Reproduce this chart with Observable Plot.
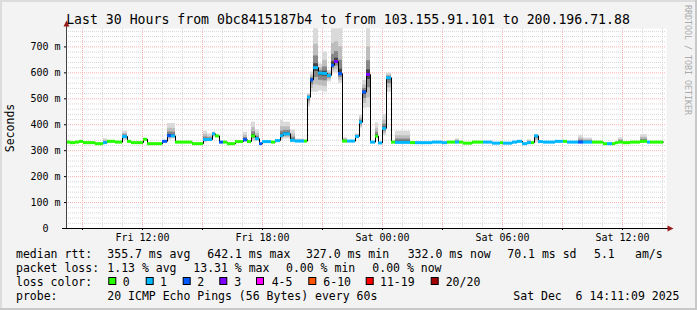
<!DOCTYPE html>
<html><head><meta charset="utf-8">
<script src="https://cdn.jsdelivr.net/npm/d3@7"></script>
<script src="https://cdn.jsdelivr.net/npm/@observablehq/plot@0.6"></script>
<style>
html,body{margin:0;padding:0;background:#f3f3f3;}
#chart{width:697px;height:310px;overflow:hidden;}
svg text{white-space:pre;}
</style></head><body><div id="chart"></div>
<script>
// ---- data (minutes after Fri Dec 5 08:12 UTC) ----
const segStartMin = [
  0,12,27,39,51,87,111,123,147,168,
  183,195,231,243,288,303,315,327,378,411,
  423,438,447,459,471,483,507,531,543,555,
  567,579,588,615,627,642,651,672,687,714,
  723,732,741,756,768,783,795,804,816,828,
  843,867,879,888,900,912,927,936,948,960,
  975,987,1032,1047,1098,1128,1143,1167,1179,1191,
  1218,1251,1278,1302,1311,1338,1353,1368,1383,1395,
  1404,1416,1431,1467,1491,1503,1536,1551,1578,1611,
  1623,1638,1647,1656,1671,1692,1722,1743,1752
];
const endMin = 1791;
const segMedian = [
  333,331,333,336,331,327,331,336,333,355,
  336,331,344,327,336,358,357,333,327,343,
  343,365,357,333,333,327,335,342,335,357,
  346,327,335,333,339,358,365,340,337,337,
  506,573,620,599,598,590,629,644,597,337,
  337,355,410,526,594,333,356,330,386,581,
  333,332,331,331,333,331,333,333,333,329,
  333,333,329,331,329,333,336,327,331,331,
  357,335,333,336,336,333,333,333,333,327,
  327,327,331,333,331,333,336,333,333
];
const segLoss = [
  0,0,0,0,0,0,1,0,0,1,
  0,0,0,0,2,2,1,0,0,1,
  1,1,0,2,0,0,0,2,0,0,
  1,2,1,0,1,1,1,1,1,0,
  1,2,1,1,1,1,2,3,2,0,
  1,1,1,2,3,1,0,1,1,1,
  0,1,0,1,1,1,0,1,0,0,
  0,1,1,0,1,1,1,1,1,0,
  1,1,1,1,0,1,2,1,0,0,
  1,0,0,0,0,0,0,1,0
];
const segSmokeHi = [
  333,331,333,336,331,327,346,336,333,375,
  336,331,344,327,336,405,405,333,327,375,
  365,372,357,333,333,327,335,371,335,410,
  380,327,335,333,339,416,410,380,345,337,
  520,603,770,634,680,610,770,770,770,350,
  337,365,436,571,770,333,407,330,440,600,
  333,375,331,331,333,331,333,346,333,329,
  333,333,329,331,329,333,336,327,342,331,
  362,335,333,336,336,333,358,349,333,327,
  327,327,331,350,331,333,362,333,333
];
const segSmokeLo = [
  333,331,333,336,331,327,331,336,333,339,
  336,331,344,327,336,340,345,333,327,330,
  335,350,357,333,333,327,335,333,335,335,
  338,327,335,333,339,340,345,330,333,337,
  468,526,525,530,526,565,600,600,560,330,
  337,345,386,463,465,333,350,330,358,525,
  333,330,331,331,333,331,333,333,333,329,
  333,333,329,331,329,333,336,327,331,331,
  330,335,333,336,336,333,333,333,333,327,
  327,327,331,333,331,333,336,333,333
];
const lossColors = ["#26ff00","#00b8ff","#0059ff","#7e00ff","#ff00ff","#ff5500","#ff0000","#a10000"];
const lossLabels = ["0","1","2","3","4-5","6-10","11-19","20/20"];
const yTickValues = [0,100,200,300,400,500,600,700];
const yTickLabels = ["0  ","100 m","200 m","300 m","400 m","500 m","600 m","700 m"];
const xTickLabels = ["Fri 12:00","Fri 18:00","Sat 00:00","Sat 06:00","Sat 12:00"];
const titleText = "Last 30 Hours from 0bc8415187b4 to from 103.155.91.101 to 200.196.71.88";
const yLabel = "Seconds";
const rrdText = "RRDTOOL / TOBI OETIKER";
const statRtt = ["median rtt:","355.7 ms avg","642.1 ms max","327.0 ms min","332.0 ms now","70.1 ms sd","5.1","am/s"];
const statLoss = ["packet loss:","1.13 % avg","13.31 % max","0.00 % min","0.00 % now"];
const probeLine = ["probe:","20 ICMP Echo Pings (56 Bytes) every 60s","Sat Dec  6 14:11:09 2025"];
const lossColorLabel = "loss color:";

// ---- build tables ----
const t0 = Date.UTC(2025, 11, 5, 8, 12);
const t1 = Date.UTC(2025, 11, 6, 14, 12);
const toDate = m => new Date(t0 + m * 60000);
const n = segStartMin.length;
const segs = segStartMin.map((s, i) => ({
  start: toDate(s),
  end: toDate(i + 1 < n ? segStartMin[i + 1] : endMin),
  median: segMedian[i],
  color: lossColors[segLoss[i]],
  hi: segSmokeHi[i],
  lo: segSmokeLo[i]
}));
const stepRows = segs.map(d => ({t: d.start, v: d.median})).concat([{t: toDate(endMin), v: segMedian[n - 1]}]);
const layers = [
  {fill: "#dadada", a: 1.0, b: 1.0},
  {fill: "#bdbdbd", a: 0.7, b: 0.6},
  {fill: "#878787", a: 0.4, b: 0.3},
  {fill: "#444444", a: 0.15, b: 0.1}
];
const smoke = [];
for (const L of layers) for (const d of segs) {
  if (d.hi - d.lo < 1) continue;
  smoke.push({x1: d.start, x2: d.end,
    y1: d.median - L.a * (d.median - d.lo),
    y2: d.median + L.b * (d.hi - d.median), fill: L.fill});
}
const hours = d3.utcHour.range(new Date(t0), new Date(t1 + 1));
const minorX = hours.filter(h => h.getUTCHours() % 3 !== 0);
const majorX = hours.filter(h => h.getUTCHours() % 3 === 0);
const minorY = d3.range(20, 771, 20).filter(v => v % 100 !== 0);
const majorY = d3.range(100, 771, 100);
const xLabelTicks = majorX.filter(h => h.getUTCHours() % 6 === 0);
const xLabelMap = new Map(xLabelTicks.map((d, i) => [+d, xTickLabels[i]]));
const yLabelMap = new Map(yTickValues.map((v, i) => [v, yTickLabels[i]]));

const chart = Plot.plot({
  width: 697, height: 310,
  marginLeft: 66, marginRight: 31, marginTop: 28, marginBottom: 82,
  style: {background: "#f3f3f3", fontFamily: "DejaVu Sans Mono", fontSize: "10px", color: "#000"},
  x: {type: "utc", domain: [new Date(t0), new Date(t1)]},
  y: {domain: [0, 771]},
  color: {type: "identity"},
  marks: [
    Plot.frame({fill: "#ffffff", stroke: null}),
    Plot.ruleY(minorY, {stroke: "#d6d6d6", strokeDasharray: "1,1"}),
    Plot.ruleX(minorX, {stroke: "#d6d6d6", strokeDasharray: "1,1"}),
    Plot.ruleY(majorY, {stroke: "#f7b0b0", strokeDasharray: "1,1"}),
    Plot.ruleX(majorX, {stroke: "#f7b0b0", strokeDasharray: "1,1"}),
    Plot.rect(smoke, {x1: "x1", x2: "x2", y1: "y1", y2: "y2", fill: "fill"}),
    Plot.line(stepRows, {x: "t", y: "v", curve: "step-after", stroke: "#000", strokeWidth: 1}),
    Plot.ruleY(segs, {x1: "start", x2: "end", y: "median", stroke: "color", strokeWidth: 3}),
    Plot.axisY({ticks: yTickValues, tickFormat: d => yLabelMap.get(d), tickSize: 2, tickPadding: 4, label: null, fontSize: 10}),
    Plot.axisX({ticks: majorX, tickFormat: () => "", tickSize: 2, label: null}),
    Plot.axisX({ticks: xLabelTicks, tickFormat: d => xLabelMap.get(+d), tickSize: 0, tickPadding: 5, label: null, fontSize: 10})
  ]
});
document.getElementById("chart").appendChild(chart);

// ---- decorations ----
const svg = d3.select(chart);
const font = "DejaVu Sans Mono";
svg.append("rect").attr("x", 0).attr("y", 0).attr("width", 697).attr("height", 2).attr("fill", "#dcdcdc");
svg.append("rect").attr("x", 0).attr("y", 0).attr("width", 2).attr("height", 310).attr("fill", "#dcdcdc");
svg.append("rect").attr("x", 0).attr("y", 308).attr("width", 697).attr("height", 2).attr("fill", "#c8c8c8");
svg.append("rect").attr("x", 695).attr("y", 0).attr("width", 2).attr("height", 310).attr("fill", "#c8c8c8");
svg.append("line").attr("x1", 66.5).attr("x2", 66.5).attr("y1", 228).attr("y2", 24).attr("stroke", "#444");
svg.append("line").attr("x1", 62).attr("x2", 668).attr("y1", 228.5).attr("y2", 228.5).attr("stroke", "#000");
svg.append("path").attr("d", "M63.5,26.5 L66.5,20.5 L69.5,26.5 Z").attr("fill", "#9b1b1b");
svg.append("path").attr("d", "M667.5,225.5 L673.5,228.5 L667.5,231.5 Z").attr("fill", "#9b1b1b");

const txt = (s, x, y, size, opts = {}) => {
  const t = svg.append("text").attr("x", x).attr("y", y).attr("font-family", font)
    .attr("font-size", size).attr("fill", opts.fill || "#000")
    .attr("text-anchor", opts.anchor || "start").text(s);
  if (opts.transform) t.attr("transform", opts.transform);
  return t;
};
txt(titleText, 348, 24, 13.2, {anchor: "middle"});
txt(yLabel, 0, 0, 11.5, {anchor: "middle", transform: "translate(14,128) rotate(-90)"});
txt(rrdText, 0, 0, 8.3, {anchor: "middle", fill: "#ababab", transform: "translate(685,60) rotate(90)"});

const fs = 11.5;
const rttX = [16, 107.3, 207.3, 306, 407.7, 507.3, 594, 635];
statRtt.forEach((s, i) => txt(s, rttX[i], 257.5, fs));
const lossX = [16, 107.3, 193.3, 286, 372.3];
statLoss.forEach((s, i) => txt(s, lossX[i], 271.5, fs));
txt(lossColorLabel, 16, 286, fs);
const boxX = [108.3, 145.7, 182.7, 219.3, 256, 308.3, 365.7, 430.7];
const boxLabelX = [122.7, 160, 197.3, 234.3, 271.7, 323.3, 380, 445.7];
lossColors.forEach((c, i) => {
  svg.append("rect").attr("x", boxX[i] + 0.5).attr("y", 277.5).attr("width", 7).attr("height", 7)
    .attr("fill", c).attr("stroke", "#000").attr("stroke-width", 1);
  txt(lossLabels[i], boxLabelX[i], 286, fs);
});
const probeX = [16, 107.3, 513.3];
probeLine.forEach((s, i) => txt(s, probeX[i], 300, fs));
</script></body></html>
